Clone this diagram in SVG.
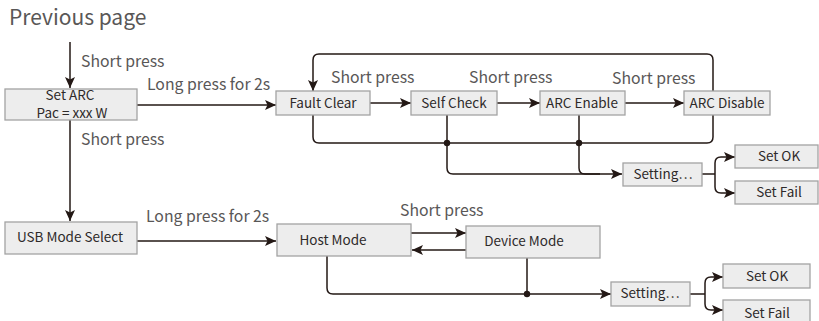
<svg xmlns="http://www.w3.org/2000/svg" width="819" height="321" viewBox="0 0 819 321">
<style>
.box{fill:#ededed;stroke:#a3a3a3;stroke-width:1.3}
.bt{font-family:"Noto Sans CJK SC","Noto Sans",sans-serif;font-size:13.5px;fill:#2e2a2a;text-anchor:middle}
.lb{font-family:"Noto Sans CJK SC","Noto Sans",sans-serif;font-size:15.8px;fill:#595757}
.ln{fill:none;stroke:#231815;stroke-width:1.5}
.ar{marker-end:url(#ah)}
</style>
<defs>
<marker id="ah" markerUnits="userSpaceOnUse" markerWidth="12" markerHeight="10" refX="11" refY="5" orient="auto">
<path d="M0,0 L11,5 L0,10 L2.5,5 z" fill="#231815"/>
</marker>
</defs>
<text x="9" y="25" font-family="'Noto Sans CJK SC','Noto Sans',sans-serif" font-size="21" fill="#595757">Previous page</text>
<g id="labels">
<text class="lb" x="81" y="67">Short press</text>
<text class="lb" x="81" y="145">Short press</text>
<text class="lb" x="147" y="90">Long press for 2s</text>
<text class="lb" x="331" y="83">Short press</text>
<text class="lb" x="469" y="83">Short press</text>
<text class="lb" x="612" y="84">Short press</text>
<text class="lb" x="146" y="222">Long press for 2s</text>
<text class="lb" x="400" y="216">Short press</text>
</g>
<g id="connectors">
<path class="ln ar" d="M70,42 V88"/>
<path class="ln ar" d="M137,105 H276"/>
<path class="ln ar" d="M70,120 V221"/>
<path class="ln ar" d="M370,103 H411"/>
<path class="ln ar" d="M497,103 H540"/>
<path class="ln ar" d="M625,103 H684"/>
<path class="ln ar" d="M313,115 V137 Q313,143 319,143 H707 Q713,143 713,137 V60 Q713,54 707,54 H319 Q313,54 313,60 V91"/>
<path class="ln ar" d="M447,115 V168 Q447,174 453,174 H622"/>
<path class="ln" d="M579,115 V168 Q579,174 585,174 H600"/>
<circle cx="447" cy="143" r="3.2" fill="#231815"/>
<circle cx="579" cy="143" r="3.2" fill="#231815"/>
<path class="ln" d="M702,174 H715"/>
<path class="ln ar" d="M715,174 V163 Q715,157 721,157 H735"/>
<path class="ln ar" d="M715,174 V187 Q715,193 721,193 H735"/>
<path class="ln ar" d="M137,241 H276"/>
<path class="ln ar" d="M411,233 H466"/>
<path class="ln ar" d="M466,250 H412"/>
<path class="ln ar" d="M327,256 V288 Q327,294 333,294 H611"/>
<path class="ln" d="M527,258 V294"/>
<circle cx="527" cy="294" r="3.2" fill="#231815"/>
<path class="ln" d="M690,294 H705"/>
<path class="ln ar" d="M705,294 V283 Q705,277 711,277 H723"/>
<path class="ln ar" d="M705,294 V304 Q705,310 711,310 H723"/>
</g>
<g id="set-arc"><rect class="box" x="5" y="89" width="132" height="31"/><text class="bt" font-size="12"><tspan x="70" y="100">Set ARC</tspan><tspan x="72" y="118">Pac =  xxx W</tspan></text></g>
<g id="fault-clear"><rect class="box" x="276" y="91" width="94" height="24"/><text class="bt" x="323" y="108">Fault Clear</text></g>
<g id="self-check"><rect class="box" x="411" y="91" width="86" height="24"/><text class="bt" x="454" y="108">Self Check</text></g>
<g id="arc-enable"><rect class="box" x="540" y="91" width="85" height="24"/><text class="bt" x="582" y="108">ARC Enable</text></g>
<g id="arc-disable"><rect class="box" x="684" y="91" width="86" height="24"/><text class="bt" x="727" y="108">ARC Disable</text></g>
<g id="setting-1"><rect class="box" x="623" y="163" width="79" height="23"/><text class="bt" x="663" y="179">Setting…</text></g>
<g id="set-ok-1"><rect class="box" x="735" y="145" width="83" height="23"/><text class="bt" x="779" y="161">Set OK</text></g>
<g id="set-fail-1"><rect class="box" x="735" y="181" width="83" height="23"/><text class="bt" x="779" y="197">Set Fail</text></g>
<g id="usb-mode-select"><rect class="box" x="5" y="222" width="132" height="32"/><text class="bt" x="70" y="242">USB Mode Select</text></g>
<g id="host-mode"><rect class="box" x="277" y="224" width="134" height="32"/><text class="bt" x="333" y="245">Host Mode</text></g>
<g id="device-mode"><rect class="box" x="466" y="226" width="134" height="32"/><text class="bt" x="524" y="246">Device Mode</text></g>
<g id="setting-2"><rect class="box" x="611" y="282" width="79" height="24"/><text class="bt" x="650" y="298">Setting…</text></g>
<g id="set-ok-2"><rect class="box" x="723" y="264" width="87" height="24"/><text class="bt" x="767" y="281">Set OK</text></g>
<g id="set-fail-2"><rect class="box" x="723" y="300" width="87" height="24"/><text class="bt" x="767" y="318">Set Fail</text></g>
</svg>
